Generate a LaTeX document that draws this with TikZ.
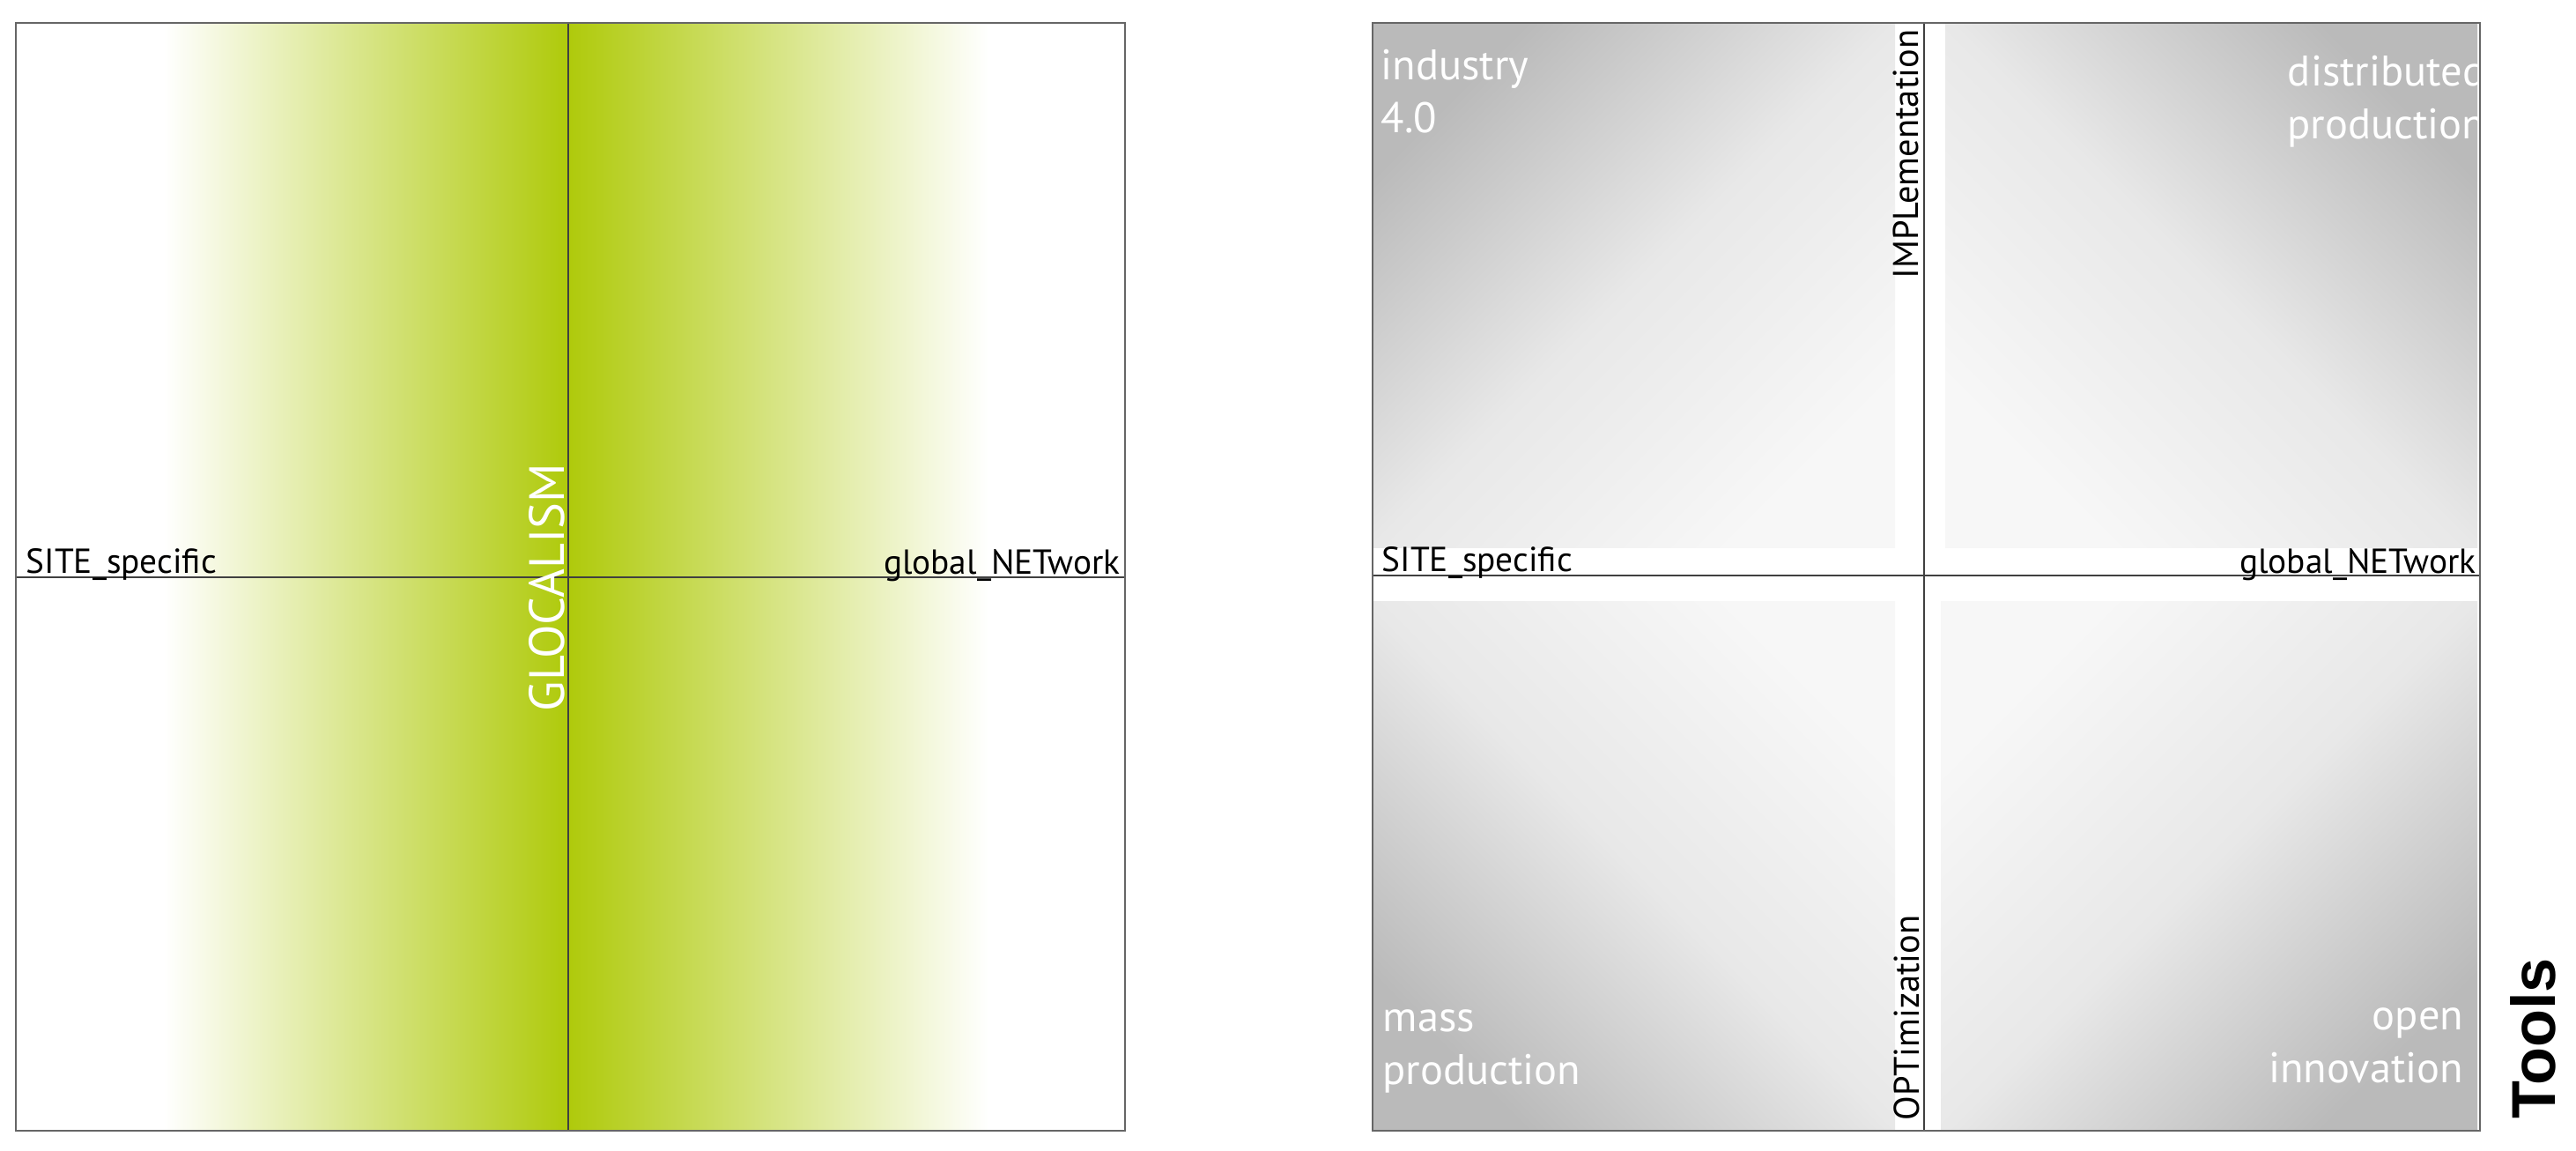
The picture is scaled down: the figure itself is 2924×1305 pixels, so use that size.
\documentclass[tikz,border=0pt]{standalone}
\usepackage{fontspec}
\setmainfont{PT Sans}
\newfontfamily\toolsfont{Liberation Sans}
\usepackage{xcolor}
\definecolor{glgreen}{RGB}{175,202,11}
\tikzset{
	frame/.style={draw=black!60, line width=0.75pt},
	axisline/.style={draw=black!75, line width=0.45pt},
	axislabel/.style={inner sep=0, font=\fontsize{11.2}{13}\selectfont},
	vlabel/.style={inner sep=0, rotate=90, font=\fontsize{11.5}{14}\selectfont},
	quadlabel/.style={inner sep=0, text=white, font=\fontsize{13.8}{17}\selectfont},
	quad/.style={top color=black!27, bottom color=black!3, middle color=black!9, shading angle=#1}
}

\begin{document}
\begin{tikzpicture}[x=0.1mm, y=-0.1mm]
	\useasboundingbox (0,0) rectangle (2924,1305);

%	left square: glocalism
	\shade[left color=white, right color=glgreen] (186,26) rectangle (645,1283);
	\shade[left color=glgreen, right color=white] (645,26) rectangle (1122,1283);
	\coordinate (lw) at (18,655);
	\coordinate (le) at (1277,655);
	\coordinate (ln) at (645,26);
	\coordinate (ls) at (645,1283);
	\draw[axisline] (lw) -- (le);
	\draw[axisline] (ln) -- (ls);
	\node[axislabel, anchor=base west] (lsite) at (29,650) {SITE\_specific};
	\node[axislabel, anchor=base east] (lnet) at (1272,651) {global\_NETwork};
	\node[inner sep=0, rotate=90, anchor=base west, text=white,
		font=\fontsize{16}{19}\selectfont] (glocal) at (640,808) {GLOCALISM};
	\draw[frame] (18,26) rectangle (1277,1283);

%	right square: tools
	\shade[quad=45] (1558,26) rectangle (2151,621);
	\shade[quad=-45] (2208,26) rectangle (2812,621);
	\shade[quad=135] (1558,682) rectangle (2151,1283);
	\shade[quad=-135] (2203,682) rectangle (2812,1283);
	\coordinate (rw) at (1558,653);
	\coordinate (re) at (2815,653);
	\coordinate (rn) at (2184,26);
	\coordinate (rs) at (2184,1283);
	\draw[axisline] (rw) -- (re);
	\draw[axisline] (rn) -- (rs);
	\node[axislabel, anchor=base west] (rsite) at (1568,648) {SITE\_specific};
	\node[axislabel, anchor=base east] (rnet) at (2811,650) {global\_NETwork};
	\node[vlabel, anchor=base east] (impl) at (2177,33) {IMPLementation};
	\node[vlabel, anchor=base west] (opt) at (2178,1272) {OPTimization};
%	base = last line
	\node[quadlabel, anchor=base west, align=left] (ind) at (1567,150) {industry\\4.0};
	\node[quadlabel, anchor=base east, align=right] (dist) at (2822,157) {distributed\\production};
	\node[quadlabel, anchor=base west, align=left] (mass) at (1569,1230) {mass\\production};
	\node[quadlabel, anchor=base east, align=right] (open) at (2797,1228) {open\\innovation};
	\draw[frame] (1558,26) rectangle (2815,1283);

	\node[inner sep=0, rotate=90, anchor=base west,
		font=\toolsfont\bfseries\fontsize{20}{24}\selectfont] (tools) at (2900,1270) {Tools};
\end{tikzpicture}
\end{document}
